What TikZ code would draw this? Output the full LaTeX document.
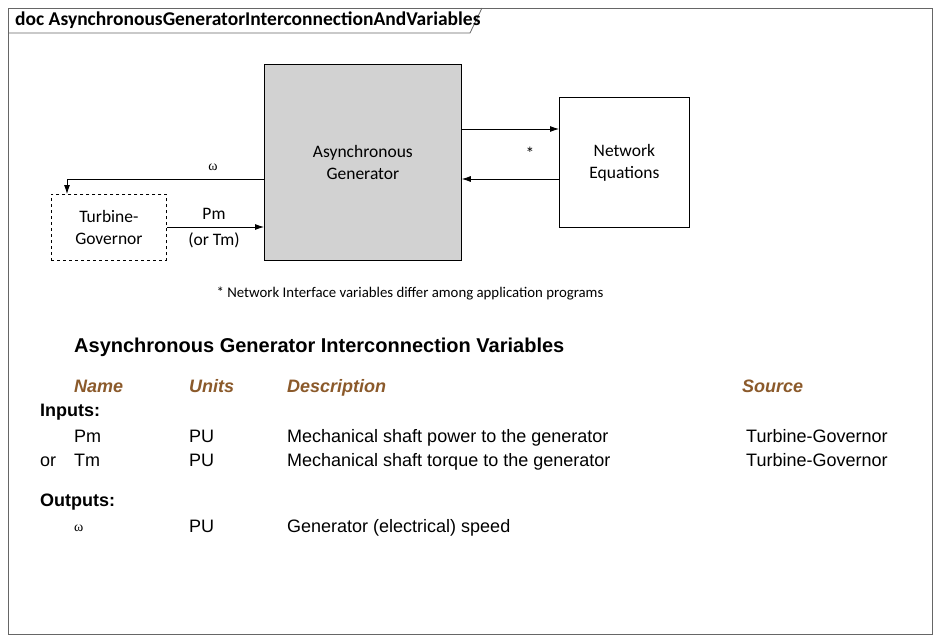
\documentclass[tikz,border=0pt]{standalone}
\usepackage{fontspec}
\setmainfont{Liberation Sans}
\newfontfamily\diafont{Carlito}
\newfontfamily\serifgr{Liberation Serif}
\usetikzlibrary{positioning, arrows.meta}
\definecolor{headbrown}{HTML}{8B5A2B}
\begin{document}
\begin{tikzpicture}[x=1pt,y=-1pt,
  blk/.style={draw, thick, font=\diafont\fontsize{17.5}{22}\selectfont, align=center, anchor=north west, inner sep=0pt},
  lbl/.style={font=\diafont\fontsize{17.5}{22}\selectfont, align=center},
  flow/.style={-{Latex[length=9pt,width=6pt]}, thick},
  txt/.style={anchor=base west, inner sep=0pt, font=\fontsize{18}{21}\selectfont},
  hd/.style={txt, font=\fontsize{18}{21}\selectfont\bfseries\itshape, text=headbrown}]
  \useasboundingbox (0,0) rectangle (940,642);
  % frame and title tab
  \draw[thick, gray!80!black] (8,8) rectangle (932,634);
  \draw[thick, gray!80!black] (8,33) -- (470,33) -- (482,8);
  \node[anchor=west, inner sep=0pt, font=\diafont\bfseries\fontsize{19.5}{22}\selectfont] (title) at (15,20) {doc AsynchronousGeneratorInterconnectionAndVariables};

  % blocks
  \node[blk, fill=gray!35, minimum width=197pt, minimum height=196pt] (gen) at (264,64) {Asynchronous\\Generator};
  \node[blk, fill=white, minimum width=130pt, minimum height=130pt] (net) at (559,97) {Network\\Equations};
  \node[blk, dashed, minimum width=115pt, minimum height=66pt] (tg) at (51,194) {Turbine-\\Governor};

  \coordinate (omega) at (67,179);
  \draw[flow] (gen.north east |- 0,129) -- (net.west |- 0,129);
  \draw[flow] (net.west |- 0,179) -- (gen.north east |- 0,179);
  \draw[flow] (gen.west |- 0,179) -- (omega) -- (omega |- tg.north);
  \draw[flow] (tg.east |- 0,227) -- (gen.west |- 0,227);

  \node[lbl] (star) at (530,153) {*};
  \node[lbl, font=\serifgr\fontsize{14}{16}\selectfont] (wlbl) at (213,167) {ω};
  \node[lbl] (pm) at (214,214) {Pm};
  \node[lbl] (tm) at (214,240) {(or Tm)};
  \node[lbl, font=\diafont\fontsize{14.8}{17}\selectfont] (note) at (410,294) {* Network Interface variables differ among application programs};

  % table
  \node[txt, font=\fontsize{20}{24}\selectfont\bfseries] (ttl) at (74,352) {Asynchronous Generator Interconnection Variables};
  \node[hd] (hname) at (74,392) {Name};
  \node[hd] (hunit) at (189,392) {Units};
  \node[hd] (hdesc) at (287,392) {Description};
  \node[hd] (hsrc) at (742,392) {Source};
  \node[txt, font=\fontsize{18}{21}\selectfont\bfseries] (inp) at (40,416) {Inputs:};
  \node[txt] (pmn) at (74,442) {Pm};
  \node[txt] (pmu) at (189,442) {PU};
  \node[txt] (pmd) at (287,442) {Mechanical shaft power to the generator};
  \node[txt] (pms) at (746,442) {Turbine-Governor};
  \node[txt] (or) at (40,466) {or};
  \node[txt] (tmn) at (74,466) {Tm};
  \node[txt] (tmu) at (189,466) {PU};
  \node[txt] (tmd) at (287,466) {Mechanical shaft torque to the generator};
  \node[txt] (tms) at (746,466) {Turbine-Governor};
  \node[txt, font=\fontsize{18}{21}\selectfont\bfseries] (outp) at (40,506) {Outputs:};
  \node[txt, font=\serifgr\fontsize{14}{16}\selectfont] (wn) at (74,531) {ω};
  \node[txt] (wu) at (189,532) {PU};
  \node[txt] (wd) at (287,532) {Generator (electrical) speed};
\end{tikzpicture}
\end{document}
